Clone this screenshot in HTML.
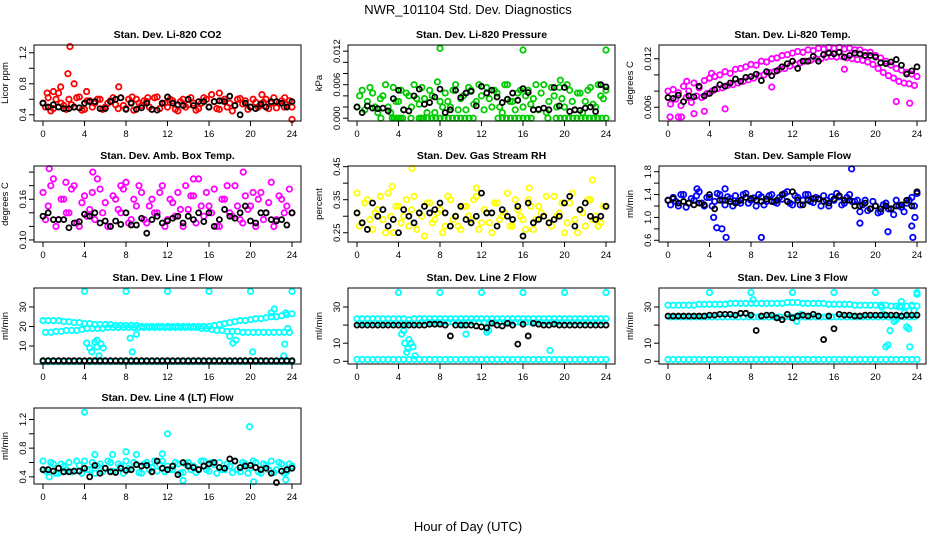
<!DOCTYPE html>
<html><head><meta charset="utf-8">
<style>
body{margin:0;background:#fff;}
svg{display:block;font-family:"Liberation Sans",Arial,sans-serif;}
.t{font-size:10.5px;font-weight:bold;text-anchor:middle;}
.tk{font-size:9.5px;text-anchor:middle;}
</style></head>
<body>
<svg id="c" width="936" height="540" viewBox="0 0 936 540">
<text x="468" y="14" style="font-size:13px" text-anchor="middle">NWR_101104  Std. Dev. Diagnostics</text>
<text x="468" y="531" style="font-size:13px" text-anchor="middle">Hour of Day (UTC)</text>
</svg>
<script>
const xTicks=[0,4,8,12,16,20,24];
// CO2
const co2A=[0.55,0.62,0.48,0.68,0.52,0.6,0.5,0.63,0.47,0.58,0.55,0.6,0.5,0.58,0.53,0.62,0.48,0.56,0.6,0.52,0.57,0.47,0.63,0.55,0.5,0.58,0.45,0.6,0.53,0.55,0.48,0.62,0.5,0.57,0.47,0.6,0.55,0.52,0.61,0.58,0.5,0.56,0.52,0.6,0.55,0.49,0.58,0.53,0.5];
const co2B=[0.5,0.45,0.6,0.55,0.47,0.53,0.62,0.46,0.58,0.5,0.6,0.47,0.55,0.62,0.48,0.52,0.6,0.46,0.55,0.58,0.5,0.62,0.48,0.55,0.6,0.47,0.57,0.5,0.62,0.46,0.55,0.6,0.66,0.48,0.58,0.5,0.45,0.6,0.54,0.47,0.6,0.5,0.56,0.48,0.62,0.55,0.5,0.58,0.47];
const co2OutH=[0.4,1.0,1.7,2.4,2.6,3.0,4.2,7.3,8.6,10.1,17,21.1,23.3,24];
const co2OutV=[0.68,0.7,0.76,0.93,1.28,0.8,0.7,0.76,0.63,0.62,0.68,0.66,0.62,0.34];
const co2K=[0.55,0.5,0.53,0.5,0.48,0.48,0.5,0.49,0.55,0.57,0.57,0.48,0.48,0.57,0.6,0.62,0.47,0.55,0.47,0.49,0.55,0.47,0.46,0.55,0.63,0.55,0.53,0.52,0.6,0.52,0.57,0.57,0.5,0.57,0.58,0.57,0.64,0.52,0.4,0.55,0.5,0.48,0.54,0.5,0.57,0.57,0.55,0.5,0.57];
// Pressure
const prA=[0.002,0.005,0.003,0.0045,0.001,0.004,0.002,0.0055,0.003,0.0015,0.004,0.006,0.0025,0.0035,0.005,0.001,0.003,0.0045,0.002,0.006,0.0035,0.0015,0.005,0.003,0.004,0.0055,0.002,0.0045,0.001,0.006,0.003,0.0045,0.002,0.005,0.0035,0.0015,0.006,0.003,0.004,0.0055,0.002,0.005,0.0015,0.0045,0.003,0.0055,0.002,0.004,0.005];
const prB=[0.004,0.0015,0.0055,0.002,0.0035,0.006,0.001,0.003,0.005,0.0045,0.002,0.0035,0.0055,0.001,0.004,0.0065,0.002,0.003,0.005,0.0015,0.004,0.0055,0.0025,0.006,0.0015,0.0035,0.005,0.002,0.006,0.003,0.0015,0.005,0.004,0.0025,0.006,0.0045,0.001,0.0055,0.002,0.0035,0.006,0.003,0.0045,0.001,0.005,0.0025,0.006,0.0035,0.002];
const prOutH=[2.3,3.4,3.6,3.8,4.0,4.2,4.4,5.2,6.0,6.2,6.4,6.8,7.2,7.6,8,8.4,8.8,9.2,9.6,10,10.4,10.8,11.2,13.6,14,14.4,14.8,15.2,15.6,16,16.4,16.8,18.4,19.2,19.6,20,20.4,20.8,21.2,21.6,22,22.4,22.8,23.2,23.6,24,8,16,24,19.6];
const prOutV=[0,0,0,0,0,0,0,0,0,0,0,0,0,0,0,0,0,0,0,0,0,0,0,0,0,0,0,0,0,0,0,0,0,0,0,0,0,0,0,0,0,0,0,0,0,0,0.0125,0.0122,0.0122,0.0068];
const prK=[0.002,0.001,0.0022,0.0018,0.0017,0.0018,0.0013,0.0035,0.005,0.0015,0.0013,0.004,0.0052,0.0025,0.0028,0.0038,0.0052,0.001,0.0015,0.005,0.0037,0.0045,0.0048,0.0022,0.0057,0.0045,0.005,0.0038,0.0028,0.0034,0.0045,0.0032,0.0053,0.0046,0.0015,0.0016,0.0018,0.0015,0.0055,0.0022,0.0055,0.0012,0.0015,0.0014,0.0018,0.002,0.0012,0.006,0.0056];
// Li-820 temp
const ltA=[.0080,.0082,.0078,.0086,.0080,.0090,.0084,.0093,.0096,.0098,.0100,.0104,.0102,.0107,.0108,.0110,.0113,.0112,.0117,.0116,.0120,.0121,.0124,.0125,.0127,.0129,.0128,.0131,.0130,.0133,.0132,.0134,.0133,.0134,.0132,.0133,.0131,.0131,.0128,.0128,.0124,.0121,.0117,.0112,.0108,.0106,.0103,.0101,.0098];
const ltB=[.0064,.0070,.0062,.0072,.0066,.0074,.0072,.0077,.0080,.0083,.0084,.0087,.0088,.0090,.0092,.0094,.0096,.0099,.0100,.0103,.0104,.0107,.0108,.0111,.0113,.0115,.0117,.0118,.0120,.0120,.0122,.0123,.0122,.0123,.0121,.0120,.0119,.0118,.0116,.0113,.0108,.0103,.0099,.0096,.0092,.0090,.0089,.0087,.0086];
const ltOutH=[0.2,1,1.3,2.5,3.5,5.5,22,23.3,10,17,1.8,4.2];
const ltOutV=[0.0048,0.0048,0.0048,0.0052,0.0055,0.0058,0.0067,0.0065,0.0085,0.0107,0.0092,0.0102];
const ltK=[.0072,.0071,.0075,.0067,.0074,.0073,.0086,.0074,.0077,.0082,.0088,.0086,.0090,.0095,.0092,.0097,.0098,.0101,.0093,.0104,.0099,.0105,.0110,.0114,.0117,.0108,.0117,.0117,.0123,.0117,.0125,.0127,.0126,.0128,.0122,.0124,.0127,.0126,.0124,.0124,.0122,.0115,.0114,.0116,.0119,.0112,.0101,.0105,.0110];
// Amb box temp
const abA=[.17,.15,.19,.13,.16,.14,.18,.12,.165,.145,.13,.175,.155,.12,.16,.14,.185,.13,.15,.17,.125,.16,.14,.18,.13,.155,.17,.12,.145,.165,.19,.135,.15,.175,.12,.16,.14,.18,.13,.165,.15,.12,.17,.14,.185,.13,.16,.15,.14];
const abB=[.13,.18,.12,.16,.14,.175,.125,.155,.135,.17,.19,.14,.12,.165,.145,.175,.125,.16,.18,.13,.15,.14,.17,.12,.16,.135,.145,.18,.165,.125,.15,.17,.14,.12,.16,.18,.135,.15,.125,.145,.17,.16,.13,.155,.12,.165,.14,.175,.125];
const abOutH=[0.6,4.8,19.3,14.5,2.2,7.5];
const abOutV=[.205,.2,.2,.19,.185,.18];
const abK=[.135,.14,.13,.13,.13,.118,.125,.127,.138,.135,.14,.125,.128,.12,.128,.123,.14,.122,.122,.132,.11,.13,.135,.125,.128,.132,.135,.125,.135,.13,.14,.127,.14,.12,.13,.145,.135,.132,.14,.15,.128,.125,.14,.14,.13,.128,.13,.122,.14];
// RH
const rhA=[.31,.28,.35,.26,.32,.29,.37,.25,.33,.3,.27,.36,.31,.24,.34,.29,.32,.27,.35,.3,.26,.33,.29,.36,.28,.31,.25,.34,.3,.37,.27,.32,.29,.35,.26,.33,.3,.28,.36,.31,.25,.34,.29,.32,.27,.35,.3,.28,.33];
const rhB=[.27,.34,.29,.31,.36,.25,.3,.33,.28,.35,.32,.26,.3,.34,.28,.31,.25,.36,.29,.27,.33,.3,.35,.26,.32,.28,.34,.29,.31,.27,.35,.3,.26,.33,.29,.31,.36,.27,.3,.34,.28,.37,.25,.31,.35,.29,.27,.33,.3];
const rhOutH=[5.3,3.4,11.5,22.7,0,16.6];
const rhOutV=[.445,.39,.385,.41,.37,.385];
const rhK=[.31,.28,.26,.34,.3,.32,.27,.29,.25,.32,.3,.28,.31,.33,.31,.32,.34,.31,.27,.3,.33,.29,.28,.3,.37,.31,.31,.27,.32,.3,.29,.33,.24,.34,.28,.29,.3,.28,.29,.3,.34,.36,.27,.32,.34,.3,.29,.3,.33];
// Sample flow
const sfA=[1.3,1.35,1.2,1.4,1.25,1.3,1.45,1.2,1.35,1.28,1.4,1.22,1.33,1.38,1.25,1.42,1.3,1.2,1.36,1.28,1.4,1.25,1.32,1.45,1.22,1.35,1.3,1.4,1.26,1.33,1.38,1.2,1.3,1.36,1.25,1.4,1.28,1.1,1.3,1.15,1.2,1.1,1.25,1.15,1.3,1.18,1.25,1.35,1.42];
const sfB=[1.22,1.28,1.4,1.18,1.33,1.38,1.25,1.35,1.2,1.42,1.3,1.36,1.2,1.28,1.4,1.25,1.34,1.4,1.22,1.38,1.27,1.35,1.42,1.25,1.38,1.22,1.4,1.28,1.35,1.2,1.3,1.36,1.42,1.22,1.35,1.28,1.3,1.22,1.12,1.28,1.08,1.22,1.15,1.05,1.2,1.1,1.3,1.2,1.3];
const sfOutH=[4.4,4.7,5.2,5.6,9,17.7,18.5,21.2,23.5,23.6,23.8,2.8,5.5];
const sfOutV=[1.0,0.82,0.8,0.65,0.65,1.85,0.9,0.75,0.85,0.65,1.0,1.5,1.5];
const sfK=[1.3,1.33,1.25,1.28,1.25,1.22,1.25,1.22,1.4,1.15,1.3,1.3,1.28,1.25,1.3,1.35,1.33,1.3,1.28,1.32,1.28,1.3,1.4,1.28,1.45,1.3,1.22,1.3,1.33,1.32,1.28,1.25,1.32,1.38,1.3,1.3,1.2,1.2,1.25,1.15,1.2,1.15,1.2,1.15,1.2,1.22,1.3,1.2,1.45];
// Line 1
const l1A=[23,23,23,23,22.5,22.5,22,22,21.5,21.5,21,21,21,21,20.5,20.5,20.5,20.5,20.5,20,20,20,20,20,20,20,20,20,20,20,20,20,20,20.5,21,21.5,22,22.5,23,23,23.5,24,24,24.5,25,25,25.5,26,26.5];
const l1B=[17,17,17.5,17.5,18,18,18,18.5,19,19,19,19,19.5,19.5,19.5,19.5,19.5,19.5,19.5,19.5,19.5,19.5,19.5,19.5,19.5,19.5,19.5,19.5,19.5,19.5,19,19,18.5,18,18,17.5,17.5,17.5,17,17,17,17,17,17,17,17,17,17,17.5];
const l1C=[2,2,2,2,2,2,2,2,2,2,2,2,2,2,2,2,2,2,2,2,2,2,2,2,2,2,2,2,2,2,2,2,2,2,2,2,2,2,2,2,2,2,2,2,2,2,2,2,2];
const l1OutH=[4,8,12,16,20,24,4.2,4.5,4.7,5,5.2,5.4,5.6,5.8,5.2,8.4,8.6,9,18,18.3,18.6,20.2,22,22.3,22.5,23.3,23.6,23.4,23.2];
const l1OutV=[38,38,38,38,38,38,11.5,9,7,12,9.5,5,11,9,13,14,7,16,15,11.5,13,7,27,29,25,11,19,27,5];
const l1K=[2.5,2.5,2.5,2.5,2.5,2.5,2.5,2.5,2.5,2.5,2.5,2.5,2.5,2.5,2.5,2.5,2.5,2.5,2.5,2.5,2.5,2.5,2.5,2.5,2.5,2.5,2.5,2.5,2.5,2.5,2.5,2.5,2.5,2.5,2.5,2.5,2.5,2.5,2.5,2.5,2.5,2.5,2.5,2.5,2.5,2.5,2.5,2.5,2.5];
// Line 2
const l2A=[23.5,23.5,23.5,23.5,23.5,23.5,23.5,23.5,23.5,23.5,23,23.5,23.5,23.5,23.5,23.5,23.5,23.5,23.5,23.5,23.5,23.5,23.5,23.5,23.5,23.5,23.5,23.5,23.5,23.5,23.5,23.5,23.5,23.5,23.5,23.5,23.5,23.5,23.5,23.5,23.5,23.5,23.5,23.5,23.5,23.5,23.5,23.5,23.5];
const l2B=[21,21,21,21,21,21,21,21,21,21,21,21,21.5,21.5,21.5,21.5,21.5,21.5,21.5,21.5,21.5,21.5,21.5,21.5,21.5,21.5,21.5,21.5,21.5,21.5,21.5,21.5,21.5,21.5,21.5,21.5,21.5,21.5,21.5,21.5,21.5,21.5,21.5,21.5,21.5,21.5,21.5,21.5,21];
const l2C=[1,1,1,1,1,1,1,1,1,1,1,1,1,1,1,1,1,1,1,1,1,1,1,1,1,1,1,1,1,1,1,1,1,1,1,1,1,1,1,1,1,1,1,1,1,1,1,1,1];
const l2OutH=[4.3,4.5,4.6,4.8,4.9,5,5.2,5.4,5.6,4,8,12,16,20,24,18.6,10.2,12.5,12.7,10.5];
const l2OutV=[15,17,10,5,7,12,10,8,3,38,38,38,38,38,38,6,20,16,17,15];
const l2K=[20,20,20,20,20,20,20,20,20,20,20,20,20,20,20.5,20.5,20.5,20,14,20,20,20,20,19.5,19,18.5,21,20,19.5,21,20,9.5,20.5,14,21,20.5,20,20,20.5,20,20,20,20,20,20,20,20,20,20];
// Line 3
const l3A=[31,31,31,31,31,31,31.5,31.5,31.5,31.5,31.5,31.5,32,32,32,32,32,32,32,32,32,32,32,32.5,32.5,32.5,32,32,32,32,32,31.5,31.5,31.5,31.5,31.5,31,31,31,31,31,31,31,30.5,30.5,30.5,30.5,30.5,30.5];
const l3B=[24.5,24.5,24.5,24.5,24.5,24.5,24.5,24.5,24.5,24.5,24.5,24.5,24.5,24.5,24.5,24.5,24.5,24.5,24.5,24.5,24.5,24.5,24.5,24.5,24.5,24.5,24.5,24.5,24.5,24.5,24.5,24.5,24.5,24.5,24.5,24.5,24.5,24.5,24.5,24.5,24.5,24.5,24.5,24.5,24.5,24.5,24.5,24.5,24.5];
const l3C=[1,1,1,1,1,1,1,1,1,1,1,1,1,1,1,1,1,1,1,1,1,1,1,1,1,1,1,1,1,1,1,1,1,1,1,1,1,1,1,1,1,1,1,1,1,1,1,1,1];
const l3OutH=[4,8,12,16,20,24,8.2,12.4,12.8,21,21.2,21.4,21.8,22,22.3,22.5,22.8,23,23.2,23.5,23.7,24,23.3,20.6,20.8];
const l3OutV=[38,38,38,38,38,38,34,22,26,8,9,17,22,23,30,33,27,19,18,31,28,37,8,30,26];
const l3K=[25,25,25,25,25,25,25,25,25.5,25.5,26,26,26,25.5,26.5,26.5,25.5,17,25,25.5,25.5,24,23,26,24,25,25.5,25,26,25,12,25,18,26,25.5,25.5,25,25,25.5,25.5,25.5,25.5,25.5,25.5,25.5,25,25.5,25.5,25.5];
// Line 4
const l4A=[0.62,0.5,0.58,0.45,0.55,0.6,0.48,0.56,0.62,0.5,0.45,0.58,0.52,0.6,0.47,0.55,0.62,0.5,0.57,0.45,0.6,0.53,0.48,0.62,0.55,0.5,0.58,0.46,0.6,0.55,0.5,0.62,0.48,0.57,0.6,0.5,0.55,0.62,0.47,0.58,0.52,0.6,0.45,0.56,0.62,0.5,0.58,0.47,0.55];
const l4B=[0.48,0.6,0.45,0.58,0.5,0.47,0.62,0.45,0.5,0.6,0.55,0.47,0.62,0.48,0.58,0.45,0.52,0.6,0.46,0.58,0.5,0.62,0.57,0.47,0.5,0.6,0.45,0.58,0.5,0.46,0.62,0.5,0.6,0.45,0.5,0.58,0.46,0.5,0.6,0.45,0.62,0.47,0.58,0.5,0.46,0.6,0.45,0.58,0.5];
const l4OutH=[4,12,19.9,11.5,8,6.7,13.5,20.3,23.4,0.6,5,9];
const l4OutV=[1.3,1.0,1.1,0.72,0.75,0.71,0.35,0.33,0.36,0.4,0.71,0.71];
const l4K=[0.5,0.5,0.48,0.52,0.47,0.47,0.48,0.48,0.52,0.4,0.56,0.45,0.52,0.47,0.46,0.52,0.49,0.5,0.57,0.55,0.56,0.47,0.62,0.52,0.5,0.55,0.43,0.6,0.55,0.53,0.5,0.55,0.58,0.6,0.53,0.52,0.65,0.62,0.53,0.55,0.56,0.53,0.5,0.52,0.45,0.32,0.48,0.5,0.52];

const NS='http://www.w3.org/2000/svg';
const svg=document.getElementById('c');
function mk(tag,attrs,parent){const e=document.createElementNS(NS,tag);for(const k in attrs)e.setAttribute(k,attrs[k]);(parent||svg).appendChild(e);return e;}
const colX=[34,348,659], rowY=[45,166,288,408], W=267, H=76;
const panels=[
 {title:'Stan. Dev. Li-820 CO2',yl:'Licor ppm',c:0,r:0,lim:[0.32,1.30],ticks:[0.4,0.6,0.8,1.0,1.2],labs:[0.4,0.8,1.2],fmt:1,col:'#ff0000',series:[co2A,co2B],outH:co2OutH,outV:co2OutV,k:co2K},
 {title:'Stan. Dev. Li-820 Pressure',yl:'kPa',c:1,r:0,lim:[-0.0005,0.0131],ticks:[0,0.002,0.004,0.006,0.008,0.010,0.012],labs:[0,0.006,0.012],fmt:3,col:'#00cc00',series:[prA,prB],outH:prOutH,outV:prOutV,k:prK},
 {title:'Stan. Dev. Li-820 Temp.',yl:'degrees C',c:2,r:0,lim:[0.0043,0.0137],ticks:[0.006,0.008,0.010,0.012],labs:[0.006,0.012],fmt:3,col:'#ff00ff',series:[ltA,ltB],outH:ltOutH,outV:ltOutV,k:ltK},
 {title:'Stan. Dev. Amb. Box Temp.',yl:'degrees C',c:0,r:1,lim:[0.097,0.209],ticks:[0.10,0.12,0.14,0.16,0.18,0.20],labs:[0.10,0.16],fmt:2,col:'#ff00ff',series:[abA,abB],outH:abOutH,outV:abOutV,k:abK},
 {title:'Stan. Dev. Gas Stream RH',yl:'percent',c:1,r:1,lim:[0.222,0.452],ticks:[0.25,0.30,0.35,0.40,0.45],labs:[0.25,0.35,0.45],fmt:2,col:'#ffff00',series:[rhA,rhB],outH:rhOutH,outV:rhOutV,k:rhK},
 {title:'Stan. Dev. Sample Flow',yl:'ml/min',c:2,r:1,lim:[0.57,1.9],ticks:[0.6,0.8,1.0,1.2,1.4,1.6,1.8],labs:[0.6,1.0,1.4,1.8],fmt:1,col:'#0000ff',series:[sfA,sfB],outH:sfOutH,outV:sfOutV,k:sfK},
 {title:'Stan. Dev. Line 1 Flow',yl:'ml/min',c:0,r:2,lim:[0.8,39.7],ticks:[10,20,30],labs:[10,20,30],fmt:0,col:'#00ffff',series:[l1A,l1B,l1C],outH:l1OutH,outV:l1OutV,k:l1K},
 {title:'Stan. Dev. Line 2 Flow',yl:'ml/min',c:1,r:2,lim:[-1.5,40.5],ticks:[0,10,20,30],labs:[0,10,30],fmt:0,col:'#00ffff',series:[l2A,l2B,l2C],outH:l2OutH,outV:l2OutV,k:l2K},
 {title:'Stan. Dev. Line 3 Flow',yl:'ml/min',c:2,r:2,lim:[-1.5,40.5],ticks:[0,10,20,30],labs:[0,10,30],fmt:0,col:'#00ffff',series:[l3A,l3B,l3C],outH:l3OutH,outV:l3OutV,k:l3K},
 {title:'Stan. Dev. Line 4 (LT) Flow',yl:'ml/min',c:0,r:3,lim:[0.3,1.36],ticks:[0.4,0.6,0.8,1.0,1.2],labs:[0.4,0.8,1.2],fmt:1,col:'#00ffff',series:[l4A,l4B],outH:l4OutH,outV:l4OutV,k:l4K}
];
panels.forEach((p,pi)=>{
  const L=colX[p.c], T=rowY[p.r];
  const g=mk('g',{});
  
  
  const xs=h=>L+9+h*(W-18)/24;
  const ys=v=>T+H-(v-p.lim[0])/(p.lim[1]-p.lim[0])*H;
  const tt=mk('text',{x:L+W/2,y:T-7,class:'t'},g);tt.textContent=p.title;
  
  
  const yt=mk('text',{x:0,y:0,class:'tk',transform:`translate(${L-26},${T+H/2}) rotate(-90)`},g);yt.textContent=p.yl;
  
  
  const pts=mk('g',{fill:'none','stroke-width':1.8},g);
  
  
  p.series.forEach((s,si)=>{s.forEach((v,i)=>{const h=i*0.5+(si%2?0.25:0);if(h>24)return;
    const cc=mk('circle',{cx:xs(h),cy:ys(v),r:2.7,stroke:p.col},pts);
    
    });});
  p.outH.forEach((h,i)=>{const cc=mk('circle',{cx:xs(h),cy:ys(p.outV[i]),r:2.7,stroke:p.col},pts);
    
    });
  p.k.forEach((v,i)=>{const cc=mk('circle',{cx:xs(i*0.5),cy:ys(v),r:2.5,stroke:'#000'},pts);
    
    });
  const box=mk('rect',{x:L,y:T,width:W,height:H,fill:'none',stroke:'#000','stroke-width':1},g);
  
  
  xTicks.forEach(t=>{mk('line',{x1:xs(t),x2:xs(t),y1:T+H,y2:T+H+5,stroke:'#000'},g);
    const tx=mk('text',{x:xs(t),y:T+H+16,class:'tk'},g);tx.textContent=t;
    
    });
  p.ticks.forEach(t=>{mk('line',{x1:L-5,x2:L,y1:ys(t),y2:ys(t),stroke:'#000'},g);});
  p.labs.forEach(t=>{const tx=mk('text',{x:0,y:0,class:'tk',transform:`translate(${L-8},${ys(t)}) rotate(-90)`},g);tx.textContent=t.toFixed(p.fmt);
    
    });
});
</script>
</body></html>
